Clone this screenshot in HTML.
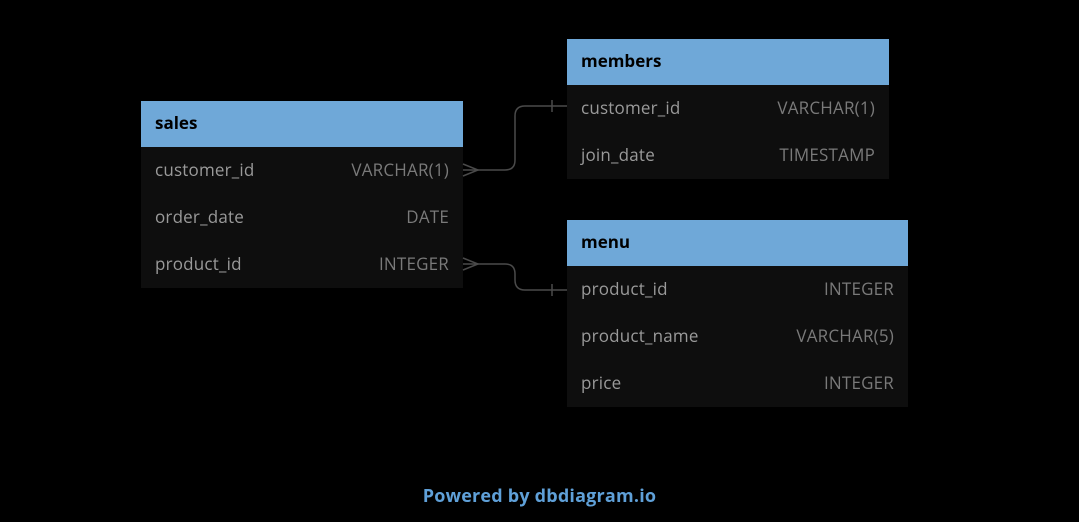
<!DOCTYPE html>
<html><head><style>
body{margin:0;width:1079px;height:522px;background:#000;position:relative;overflow:hidden;font-family:"Open Sans","DejaVu Sans","Liberation Sans",sans-serif}
.t{position:absolute;background:#0e0e0e}
.h{height:46px;background:#6fa8d8;color:#000;font-weight:bold;font-size:17px;line-height:43px;padding-left:14px;box-sizing:border-box}
.r{height:47px;line-height:45px;color:#9a9a9a;font-size:17px;padding:0 14px;display:flex;justify-content:space-between;letter-spacing:0.2px}
.r span:last-child{color:#7a7a7a}
.f{position:absolute;left:0;width:1079px;top:484px;text-align:center;color:#5fa0d8;font-size:18px;font-weight:bold;letter-spacing:0.2px}
</style></head><body>
<div class="t" style="left:141px;top:101px;width:322px">
<div class="h">sales</div>
<div class="r"><span>customer_id</span><span>VARCHAR(1)</span></div>
<div class="r"><span>order_date</span><span>DATE</span></div>
<div class="r"><span>product_id</span><span>INTEGER</span></div>
</div>
<div class="t" style="left:567px;top:39px;width:322px">
<div class="h">members</div>
<div class="r"><span>customer_id</span><span>VARCHAR(1)</span></div>
<div class="r"><span>join_date</span><span>TIMESTAMP</span></div>
</div>
<div class="t" style="left:567px;top:220px;width:341px">
<div class="h">menu</div>
<div class="r"><span>product_id</span><span>INTEGER</span></div>
<div class="r"><span>product_name</span><span>VARCHAR(5)</span></div>
<div class="r"><span>price</span><span>INTEGER</span></div>
</div>
<svg style="position:absolute;left:0;top:0" width="1079" height="522" fill="none" stroke="#4a4a4a" stroke-width="1.5">
<path d="M463 170 H505 Q515 170 515 160 V116 Q515 106 525 106 H567"/>
<path d="M463 164 L478 170 L463 176"/>
<path d="M552 100 V112"/>
<path d="M463 264 H505 Q515 264 515 274 V280 Q515 290 525 290 H567"/>
<path d="M463 258 L478 264 L463 270"/>
<path d="M552 284 V296"/>
</svg>
<div class="f">Powered by dbdiagram.io</div>
</body></html>
